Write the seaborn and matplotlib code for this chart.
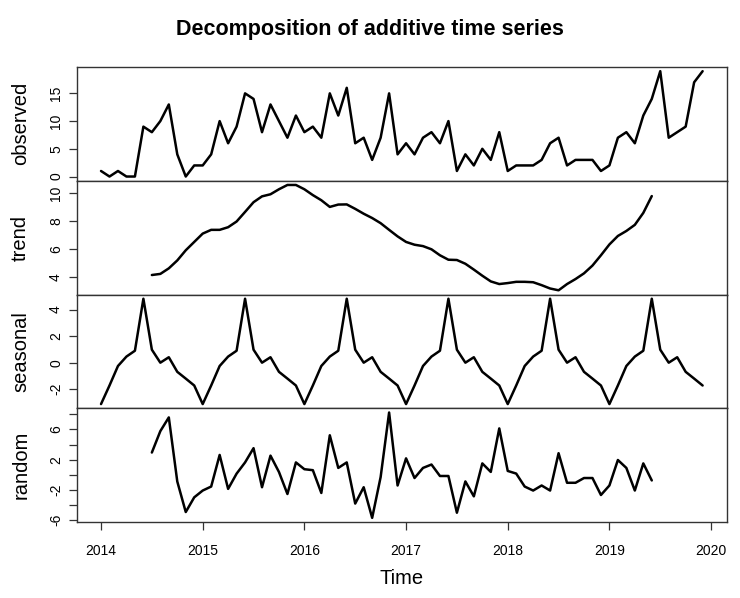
import numpy as np
import pandas as pd
import matplotlib
matplotlib.use("Agg")
import matplotlib.pyplot as plt
import seaborn as sns

# monthly series, Jan 2014 .. Dec 2019
start_year = 2014
observed = [1, 0, 1, 0, 0, 9, 8, 10, 13, 4, 0, 2, 2, 4, 10, 6, 9, 15, 14, 8,
            13, 10, 7, 11, 8, 9, 7, 15, 11, 16, 6, 7, 3, 7, 15, 4, 6, 4, 7, 8,
            6, 10, 1, 4, 2, 5, 3, 8, 1, 2, 2, 2, 3, 6, 7, 2, 3, 3, 3, 1,
            2, 7, 8, 6, 11, 14, 19, 7, 8, 9, 17, 19]

# trend / random only exist from Jul 2014 to Jun 2019 (12-month moving average)
ma_offset = 6
trend = [4.12, 4.2, 4.6, 5.17, 5.9, 6.5, 7.1, 7.37, 7.37, 7.56,
         7.97, 8.66, 9.36, 9.78, 9.93, 10.29, 10.6, 10.6, 10.29, 9.87,
         9.5, 9.02, 9.19, 9.2, 8.88, 8.53, 8.22, 7.85, 7.37, 6.9,
         6.5, 6.3, 6.2, 5.97, 5.54, 5.22, 5.2, 4.93, 4.51, 4.07,
         3.66, 3.47, 3.54, 3.63, 3.63, 3.6, 3.39, 3.15, 3.02, 3.47,
         3.83, 4.24, 4.8, 5.54, 6.32, 6.93, 7.29, 7.73, 8.59, 9.8]

seasonal_pattern = [-3.12, -1.72, -0.25, 0.46, 0.9, 4.82, 0.98, 0.0, 0.41, -0.69, -1.2, -1.72]

random_part = [2.94, 5.78, 7.6, -0.9, -4.95, -3.0, -2.1, -1.57, 2.62, -1.88,
               0.14, 1.63, 3.52, -1.66, 2.53, 0.36, -2.56, 1.63, 0.73, 0.6,
               -2.42, 5.23, 0.9, 1.63, -3.83, -1.66, -5.72, -0.31, 8.25, -1.43,
               2.17, -0.44, 0.9, 1.35, -0.17, -0.17, -5.04, -0.89, -2.87, 1.5,
               0.37, 6.14, 0.5, 0.15, -1.57, -2.1, -1.43, -2.1, 2.85, -1.07,
               -1.07, -0.44, -0.44, -2.69, -1.43, 1.95, 0.9, -2.1, 1.5, -0.76]

year_ticks = [2014, 2015, 2016, 2017, 2018, 2019, 2020]

# --- build data frames ---
n = len(observed)
time = start_year + np.arange(n) / 12
df_obs = pd.DataFrame({"time": time, "value": observed})
df_seas = pd.DataFrame({"time": time, "value": np.tile(seasonal_pattern, n // 12)})
t_ma = time[ma_offset:ma_offset + len(trend)]
df_trend = pd.DataFrame({"time": t_ma, "value": trend})
df_rand = pd.DataFrame({"time": t_ma, "value": random_part})

sns.set_theme(style="white")
plt.rcParams["font.family"] = ["Liberation Sans", "DejaVu Sans"]
plt.rcParams["text.color"] = "black"
plt.rcParams["axes.labelcolor"] = "black"
plt.rcParams["xtick.color"] = "black"
plt.rcParams["ytick.color"] = "black"

fig, axes = plt.subplots(4, 1, figsize=(7.4, 5.98), dpi=100, sharex=True)
fig.subplots_adjust(left=0.104, right=0.982, top=0.888, bottom=0.127, hspace=0)

panels = [
    (df_obs, "observed", [0, 5, 10, 15], ["0", "5", "10", "15"]),
    (df_trend, "trend", [4, 6, 8, 10], ["4", "6", "8", "10"]),
    (df_seas, "seasonal", [-2, 0, 2, 4], ["-2", "0", "2", "4"]),
    (df_rand, "random", [-6, -4, -2, 0, 2, 4, 6, 8], ["-6", "", "-2", "", "2", "", "6", ""]),
]

for ax, (d, name, ticks, labels) in zip(axes, panels):
    sns.lineplot(data=d, x="time", y="value", ax=ax, color="black", linewidth=1.8)
    lo, hi = d["value"].min(), d["value"].max()
    pad = (hi - lo) * 0.04
    ax.set_ylim(lo - pad, hi + pad)
    ax.set_yticks(ticks)
    ax.set_yticklabels(labels, rotation=90, va="center", fontsize=10)
    ax.set_ylabel(name, fontsize=14.5)
    ax.set_xlabel("")
    for s in ax.spines.values():
        s.set_color("#333333")
        s.set_linewidth(1.0)
    ax.tick_params(axis="y", direction="out", length=6, width=0.9, color="#333333", pad=4, left=True)
    ax.tick_params(axis="x", bottom=False)
    ax.yaxis.set_label_coords(-0.072, 0.5)

span = (n - 1) / 12
axes[-1].set_xlim(start_year - 0.04 * span, start_year + span + 0.04 * span)
axes[-1].set_xticks(year_ticks)
axes[-1].set_xticklabels([str(y) for y in year_ticks], fontsize=10)
axes[-1].tick_params(axis="x", bottom=True, direction="out", length=6, width=0.9, color="#333333", pad=10)
axes[-1].set_xlabel("Time", fontsize=14.5, labelpad=8)

fig.suptitle("Decomposition of additive time series", fontsize=15.5, fontweight="bold", y=0.968)

plt.savefig("out.png", dpi=100)
